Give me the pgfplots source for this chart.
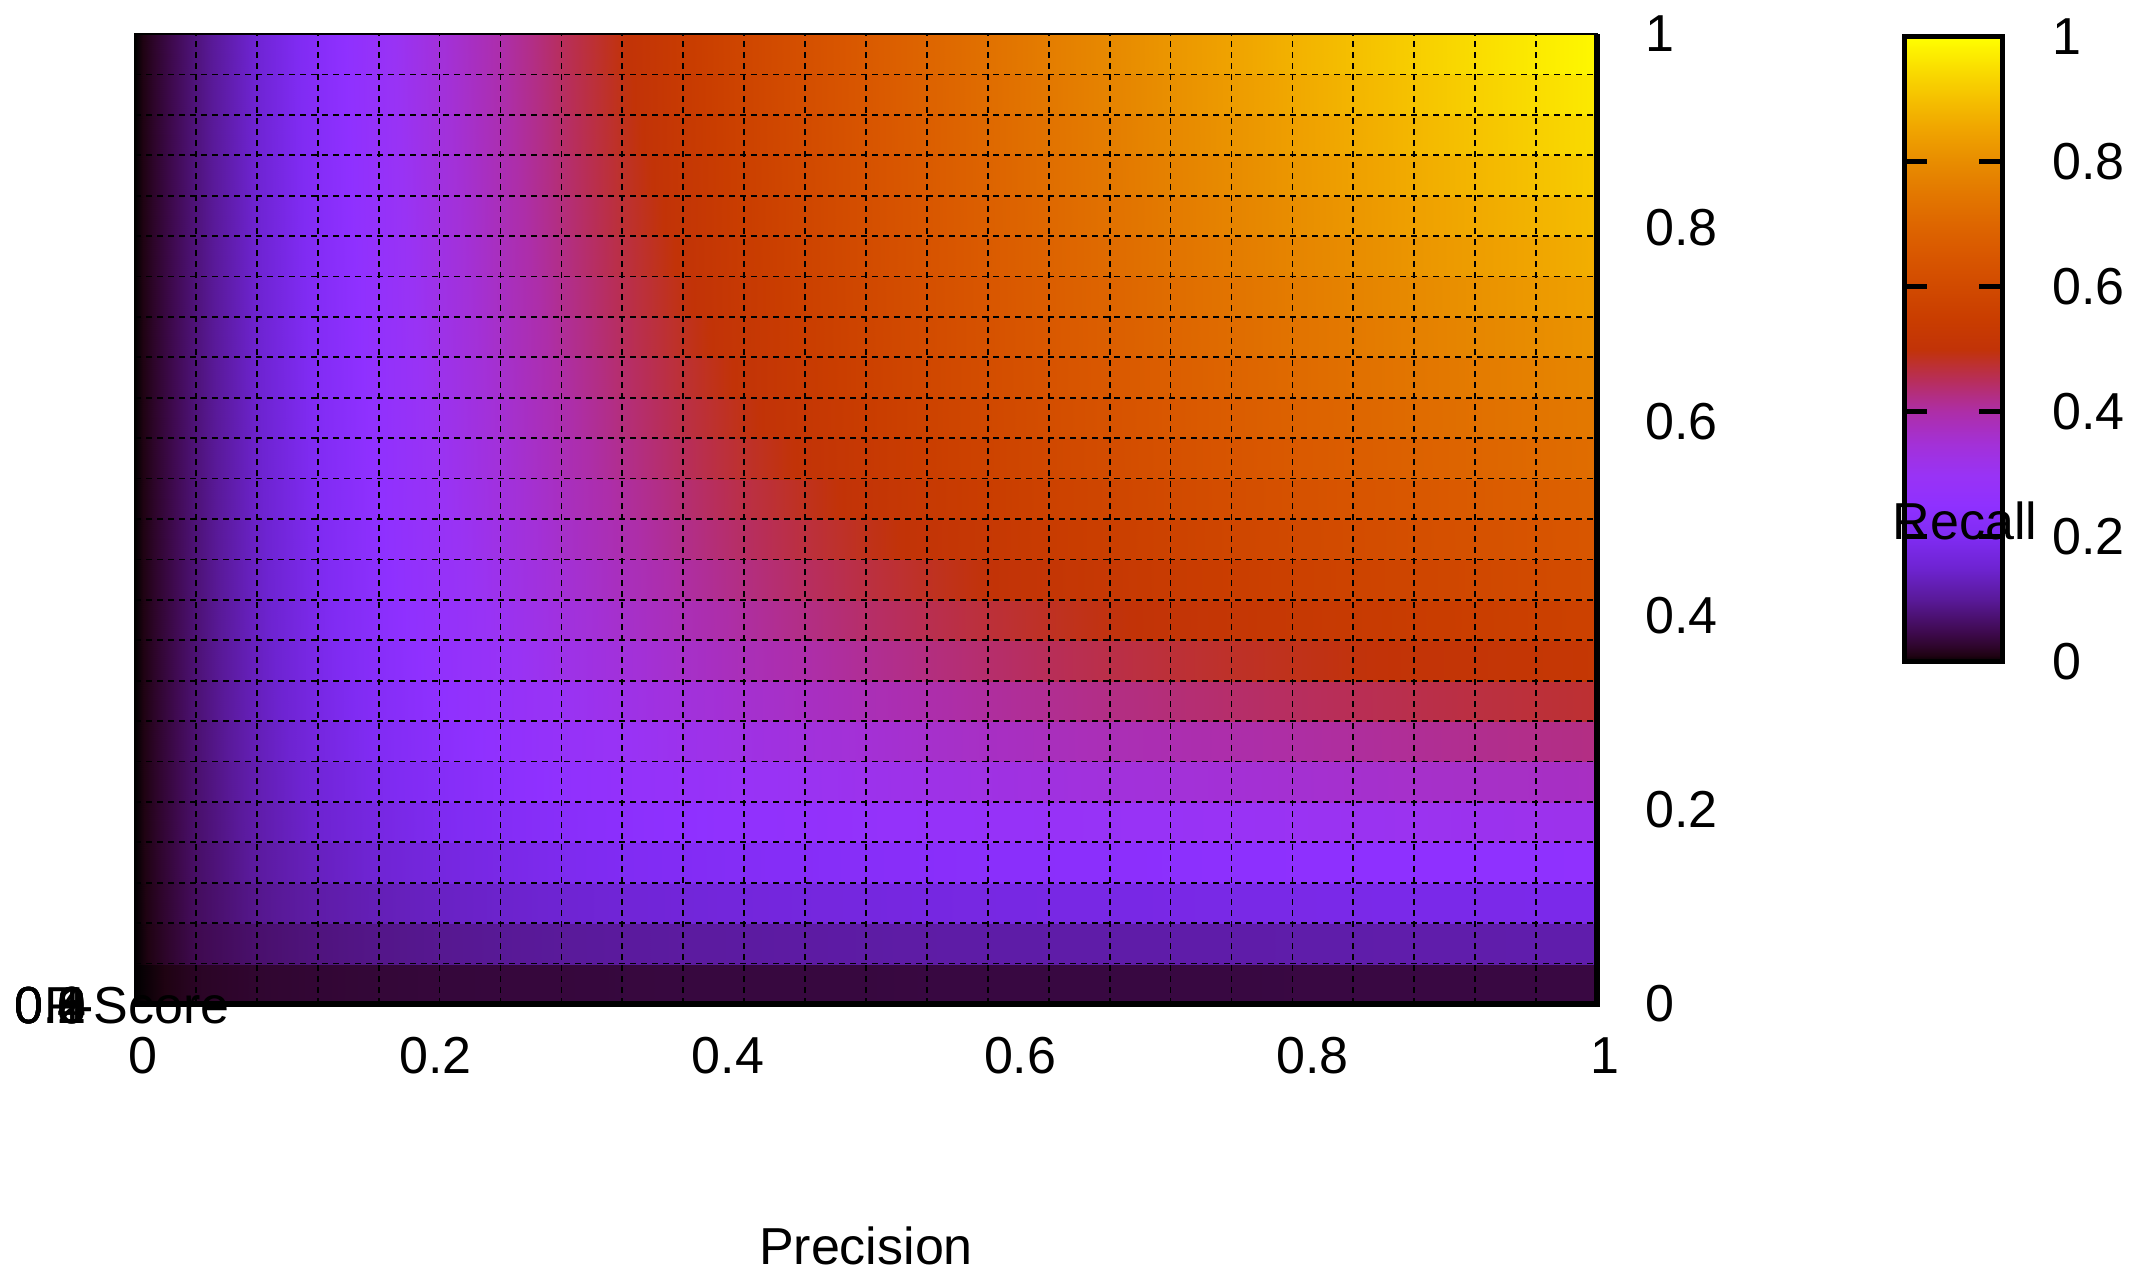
\documentclass[border=0pt]{standalone}
\usepackage{fontspec}
\setmainfont{Liberation Sans}
\usepackage{pgfplots}
\pgfplotsset{compat=1.18, /pgf/number format/assume math mode=true}
\pgfplotsset{colormap={gnu}{
 rgb(0pt)=(0,0,0) rgb(1pt)=(0.12,0.01,0.07) rgb(2.5pt)=(0.18,0.02,0.17)
 rgb(5pt)=(0.25,0.04,0.32) rgb(10pt)=(0.35,0.10,0.60) rgb(15pt)=(0.43,0.14,0.82)
 rgb(20pt)=(0.50,0.17,0.95) rgb(25pt)=(0.56,0.19,1) rgb(30pt)=(0.60,0.20,0.96)
 rgb(35pt)=(0.64,0.19,0.84) rgb(40pt)=(0.68,0.18,0.66) rgb(42.5pt)=(0.70,0.18,0.52)
 rgb(45pt)=(0.72,0.18,0.36) rgb(47.5pt)=(0.74,0.19,0.20) rgb(50pt)=(0.76,0.20,0.03)
 rgb(55pt)=(0.79,0.24,0) rgb(60pt)=(0.82,0.29,0) rgb(65pt)=(0.85,0.34,0)
 rgb(70pt)=(0.87,0.40,0) rgb(75pt)=(0.89,0.47,0) rgb(80pt)=(0.91,0.55,0)
 rgb(85pt)=(0.94,0.64,0) rgb(90pt)=(0.96,0.75,0) rgb(95pt)=(0.98,0.87,0)
 rgb(100pt)=(1,1,0)}}
\begin{document}
\begin{tikzpicture}[font=\fontsize{26}{31}\selectfont]
\path[use as bounding box] (0,0) rectangle (1068.5pt,636.5pt);
\begin{axis}[
  at={(67.5pt,134.5pt)}, anchor=south west,
  scale only axis, width=731pt, height=485pt,
  xmin=0, xmax=1, ymin=0, ymax=1, clip=false,
  xtick={0,0.2,0.4,0.6,0.8,1}, ytick={0,0.2,0.4,0.6,0.8,1},
  minor xtick={0.04167,0.08333,0.125,0.16667,0.20833,0.25,0.29167,0.33333,0.375,0.41667,0.45833,0.5,0.54167,0.58333,0.625,0.66667,0.70833,0.75,0.79167,0.83333,0.875,0.91667,0.95833},
  minor ytick={0.04167,0.08333,0.125,0.16667,0.20833,0.25,0.29167,0.33333,0.375,0.41667,0.45833,0.5,0.54167,0.58333,0.625,0.66667,0.70833,0.75,0.79167,0.83333,0.875,0.91667,0.95833},
  major tick length=0pt, minor tick length=0pt,
  xminorgrids=true, yminorgrids=true,
  minor grid style={black, line width=0.9pt, dash pattern=on 3pt off 2.5pt},
  axis on top,
  axis line style={line width=1.3pt},
  yticklabel pos=right,
  yticklabel style={anchor=west, inner sep=0pt, xshift=24pt},
  xticklabel style={anchor=center, inner sep=0pt, yshift=-26pt, xshift=4pt},
  xlabel={Precision},
  xlabel style={at={(axis description cs:0.5,0)}, anchor=center, inner sep=0pt, yshift=-121pt},
  colormap name=gnu, point meta min=0, point meta max=1,
]
\addplot[surf, shader=interp, point meta=explicit] table[meta index=2] {
0 0 0
0.0417 0 0.021
0.0833 0 0.028
0.125 0 0.031
0.1667 0 0.033
0.2083 0 0.035
0.25 0 0.036
0.2917 0 0.036
0.3333 0 0.037
0.375 0 0.038
0.4167 0 0.038
0.4583 0 0.038
0.5 0 0.038
0.5417 0 0.039
0.5833 0 0.039
0.625 0 0.039
0.6667 0 0.039
0.7083 0 0.039
0.75 0 0.039
0.7917 0 0.040
0.8333 0 0.040
0.875 0 0.040
0.9167 0 0.040
0.9583 0 0.040
1 0 0.040

0 0.0417 0
0.0417 0.0417 0.021
0.0833 0.0417 0.028
0.125 0.0417 0.031
0.1667 0.0417 0.033
0.2083 0.0417 0.035
0.25 0.0417 0.036
0.2917 0.0417 0.036
0.3333 0.0417 0.037
0.375 0.0417 0.038
0.4167 0.0417 0.038
0.4583 0.0417 0.038
0.5 0.0417 0.038
0.5417 0.0417 0.039
0.5833 0.0417 0.039
0.625 0.0417 0.039
0.6667 0.0417 0.039
0.7083 0.0417 0.039
0.75 0.0417 0.039
0.7917 0.0417 0.040
0.8333 0.0417 0.040
0.875 0.0417 0.040
0.9167 0.0417 0.040
0.9583 0.0417 0.040
1 0.0417 0.040

0 0.0417 0
0.0417 0.0417 0.049
0.0833 0.0417 0.069
0.125 0.0417 0.081
0.1667 0.0417 0.089
0.2083 0.0417 0.094
0.25 0.0417 0.098
0.2917 0.0417 0.101
0.3333 0.0417 0.104
0.375 0.0417 0.106
0.4167 0.0417 0.107
0.4583 0.0417 0.109
0.5 0.0417 0.110
0.5417 0.0417 0.111
0.5833 0.0417 0.112
0.625 0.0417 0.113
0.6667 0.0417 0.113
0.7083 0.0417 0.114
0.75 0.0417 0.114
0.7917 0.0417 0.115
0.8333 0.0417 0.115
0.875 0.0417 0.116
0.9167 0.0417 0.116
0.9583 0.0417 0.117
1 0.0417 0.117

0 0.0833 0
0.0417 0.0833 0.049
0.0833 0.0833 0.069
0.125 0.0833 0.081
0.1667 0.0833 0.089
0.2083 0.0833 0.094
0.25 0.0833 0.098
0.2917 0.0833 0.101
0.3333 0.0833 0.104
0.375 0.0833 0.106
0.4167 0.0833 0.107
0.4583 0.0833 0.109
0.5 0.0833 0.110
0.5417 0.0833 0.111
0.5833 0.0833 0.112
0.625 0.0833 0.113
0.6667 0.0833 0.113
0.7083 0.0833 0.114
0.75 0.0833 0.114
0.7917 0.0833 0.115
0.8333 0.0833 0.115
0.875 0.0833 0.116
0.9167 0.0833 0.116
0.9583 0.0833 0.117
1 0.0833 0.117

0 0.0833 0
0.0417 0.0833 0.059
0.0833 0.0833 0.092
0.125 0.0833 0.113
0.1667 0.0833 0.127
0.2083 0.0833 0.138
0.25 0.0833 0.146
0.2917 0.0833 0.152
0.3333 0.0833 0.158
0.375 0.0833 0.162
0.4167 0.0833 0.166
0.4583 0.0833 0.169
0.5 0.0833 0.171
0.5417 0.0833 0.174
0.5833 0.0833 0.176
0.625 0.0833 0.178
0.6667 0.0833 0.179
0.7083 0.0833 0.181
0.75 0.0833 0.182
0.7917 0.0833 0.183
0.8333 0.0833 0.185
0.875 0.0833 0.186
0.9167 0.0833 0.186
0.9583 0.0833 0.187
1 0.0833 0.188

0 0.125 0
0.0417 0.125 0.059
0.0833 0.125 0.092
0.125 0.125 0.113
0.1667 0.125 0.127
0.2083 0.125 0.138
0.25 0.125 0.146
0.2917 0.125 0.152
0.3333 0.125 0.158
0.375 0.125 0.162
0.4167 0.125 0.166
0.4583 0.125 0.169
0.5 0.125 0.171
0.5417 0.125 0.174
0.5833 0.125 0.176
0.625 0.125 0.178
0.6667 0.125 0.179
0.7083 0.125 0.181
0.75 0.125 0.182
0.7917 0.125 0.183
0.8333 0.125 0.185
0.875 0.125 0.186
0.9167 0.125 0.186
0.9583 0.125 0.187
1 0.125 0.188

0 0.125 0
0.0417 0.125 0.065
0.0833 0.125 0.106
0.125 0.125 0.134
0.1667 0.125 0.155
0.2083 0.125 0.171
0.25 0.125 0.183
0.2917 0.125 0.194
0.3333 0.125 0.202
0.375 0.125 0.209
0.4167 0.125 0.215
0.4583 0.125 0.220
0.5 0.125 0.225
0.5417 0.125 0.229
0.5833 0.125 0.233
0.625 0.125 0.236
0.6667 0.125 0.239
0.7083 0.125 0.241
0.75 0.125 0.244
0.7917 0.125 0.246
0.8333 0.125 0.248
0.875 0.125 0.249
0.9167 0.125 0.251
0.9583 0.125 0.253
1 0.125 0.254

0 0.1667 0
0.0417 0.1667 0.065
0.0833 0.1667 0.106
0.125 0.1667 0.134
0.1667 0.1667 0.155
0.2083 0.1667 0.171
0.25 0.1667 0.183
0.2917 0.1667 0.194
0.3333 0.1667 0.202
0.375 0.1667 0.209
0.4167 0.1667 0.215
0.4583 0.1667 0.220
0.5 0.1667 0.225
0.5417 0.1667 0.229
0.5833 0.1667 0.233
0.625 0.1667 0.236
0.6667 0.1667 0.239
0.7083 0.1667 0.241
0.75 0.1667 0.244
0.7917 0.1667 0.246
0.8333 0.1667 0.248
0.875 0.1667 0.249
0.9167 0.1667 0.251
0.9583 0.1667 0.253
1 0.1667 0.254

0 0.1667 0
0.0417 0.1667 0.068
0.0833 0.1667 0.115
0.125 0.1667 0.150
0.1667 0.1667 0.176
0.2083 0.1667 0.197
0.25 0.1667 0.214
0.2917 0.1667 0.228
0.3333 0.1667 0.239
0.375 0.1667 0.249
0.4167 0.1667 0.258
0.4583 0.1667 0.266
0.5 0.1667 0.272
0.5417 0.1667 0.278
0.5833 0.1667 0.283
0.625 0.1667 0.288
0.6667 0.1667 0.292
0.7083 0.1667 0.296
0.75 0.1667 0.299
0.7917 0.1667 0.303
0.8333 0.1667 0.306
0.875 0.1667 0.308
0.9167 0.1667 0.311
0.9583 0.1667 0.313
1 0.1667 0.315

0 0.2083 0
0.0417 0.2083 0.068
0.0833 0.2083 0.115
0.125 0.2083 0.150
0.1667 0.2083 0.176
0.2083 0.2083 0.197
0.25 0.2083 0.214
0.2917 0.2083 0.228
0.3333 0.2083 0.239
0.375 0.2083 0.249
0.4167 0.2083 0.258
0.4583 0.2083 0.266
0.5 0.2083 0.272
0.5417 0.2083 0.278
0.5833 0.2083 0.283
0.625 0.2083 0.288
0.6667 0.2083 0.292
0.7083 0.2083 0.296
0.75 0.2083 0.299
0.7917 0.2083 0.303
0.8333 0.2083 0.306
0.875 0.2083 0.308
0.9167 0.2083 0.311
0.9583 0.2083 0.313
1 0.2083 0.315

0 0.2083 0
0.0417 0.2083 0.070
0.0833 0.2083 0.122
0.125 0.2083 0.161
0.1667 0.2083 0.193
0.2083 0.2083 0.218
0.25 0.2083 0.239
0.2917 0.2083 0.256
0.3333 0.2083 0.271
0.375 0.2083 0.284
0.4167 0.2083 0.295
0.4583 0.2083 0.305
0.5 0.2083 0.314
0.5417 0.2083 0.322
0.5833 0.2083 0.329
0.625 0.2083 0.335
0.6667 0.2083 0.341
0.7083 0.2083 0.346
0.75 0.2083 0.351
0.7917 0.2083 0.355
0.8333 0.2083 0.359
0.875 0.2083 0.363
0.9167 0.2083 0.366
0.9583 0.2083 0.369
1 0.2083 0.372

0 0.25 0
0.0417 0.25 0.070
0.0833 0.25 0.122
0.125 0.25 0.161
0.1667 0.25 0.193
0.2083 0.25 0.218
0.25 0.25 0.239
0.2917 0.25 0.256
0.3333 0.25 0.271
0.375 0.25 0.284
0.4167 0.25 0.295
0.4583 0.25 0.305
0.5 0.25 0.314
0.5417 0.25 0.322
0.5833 0.25 0.329
0.625 0.25 0.335
0.6667 0.25 0.341
0.7083 0.25 0.346
0.75 0.25 0.351
0.7917 0.25 0.355
0.8333 0.25 0.359
0.875 0.25 0.363
0.9167 0.25 0.366
0.9583 0.25 0.369
1 0.25 0.372

0 0.25 0
0.0417 0.25 0.072
0.0833 0.25 0.127
0.125 0.25 0.171
0.1667 0.25 0.206
0.2083 0.25 0.235
0.25 0.25 0.260
0.2917 0.25 0.281
0.3333 0.25 0.298
0.375 0.25 0.314
0.4167 0.25 0.328
0.4583 0.25 0.340
0.5 0.25 0.351
0.5417 0.25 0.361
0.5833 0.25 0.370
0.625 0.25 0.378
0.6667 0.25 0.385
0.7083 0.25 0.391
0.75 0.25 0.398
0.7917 0.25 0.403
0.8333 0.25 0.408
0.875 0.25 0.413
0.9167 0.25 0.418
0.9583 0.25 0.422
1 0.25 0.426

0 0.2917 0
0.0417 0.2917 0.072
0.0833 0.2917 0.127
0.125 0.2917 0.171
0.1667 0.2917 0.206
0.2083 0.2917 0.235
0.25 0.2917 0.260
0.2917 0.2917 0.281
0.3333 0.2917 0.298
0.375 0.2917 0.314
0.4167 0.2917 0.328
0.4583 0.2917 0.340
0.5 0.2917 0.351
0.5417 0.2917 0.361
0.5833 0.2917 0.370
0.625 0.2917 0.378
0.6667 0.2917 0.385
0.7083 0.2917 0.391
0.75 0.2917 0.398
0.7917 0.2917 0.403
0.8333 0.2917 0.408
0.875 0.2917 0.413
0.9167 0.2917 0.418
0.9583 0.2917 0.422
1 0.2917 0.426

0 0.2917 0
0.0417 0.2917 0.074
0.0833 0.2917 0.132
0.125 0.2917 0.178
0.1667 0.2917 0.217
0.2083 0.2917 0.250
0.25 0.2917 0.278
0.2917 0.2917 0.301
0.3333 0.2917 0.322
0.375 0.2917 0.341
0.4167 0.2917 0.357
0.4583 0.2917 0.371
0.5 0.2917 0.384
0.5417 0.2917 0.396
0.5833 0.2917 0.407
0.625 0.2917 0.416
0.6667 0.2917 0.425
0.7083 0.2917 0.433
0.75 0.2917 0.441
0.7917 0.2917 0.448
0.8333 0.2917 0.454
0.875 0.2917 0.460
0.9167 0.2917 0.466
0.9583 0.2917 0.471
1 0.2917 0.476

0 0.3333 0
0.0417 0.3333 0.074
0.0833 0.3333 0.132
0.125 0.3333 0.178
0.1667 0.3333 0.217
0.2083 0.3333 0.250
0.25 0.3333 0.278
0.2917 0.3333 0.301
0.3333 0.3333 0.322
0.375 0.3333 0.341
0.4167 0.3333 0.357
0.4583 0.3333 0.371
0.5 0.3333 0.384
0.5417 0.3333 0.396
0.5833 0.3333 0.407
0.625 0.3333 0.416
0.6667 0.3333 0.425
0.7083 0.3333 0.433
0.75 0.3333 0.441
0.7917 0.3333 0.448
0.8333 0.3333 0.454
0.875 0.3333 0.460
0.9167 0.3333 0.466
0.9583 0.3333 0.471
1 0.3333 0.476

0 0.3333 0
0.0417 0.3333 0.075
0.0833 0.3333 0.135
0.125 0.3333 0.185
0.1667 0.3333 0.227
0.2083 0.3333 0.262
0.25 0.3333 0.293
0.2917 0.3333 0.320
0.3333 0.3333 0.343
0.375 0.3333 0.364
0.4167 0.3333 0.383
0.4583 0.3333 0.399
0.5 0.3333 0.414
0.5417 0.3333 0.428
0.5833 0.3333 0.440
0.625 0.3333 0.452
0.6667 0.3333 0.462
0.7083 0.3333 0.472
0.75 0.3333 0.481
0.7917 0.3333 0.489
0.8333 0.3333 0.497
0.875 0.3333 0.504
0.9167 0.3333 0.511
0.9583 0.3333 0.517
1 0.3333 0.523

0 0.375 0
0.0417 0.375 0.075
0.0833 0.375 0.135
0.125 0.375 0.185
0.1667 0.375 0.227
0.2083 0.375 0.262
0.25 0.375 0.293
0.2917 0.375 0.320
0.3333 0.375 0.343
0.375 0.375 0.364
0.4167 0.375 0.383
0.4583 0.375 0.399
0.5 0.375 0.414
0.5417 0.375 0.428
0.5833 0.375 0.440
0.625 0.375 0.452
0.6667 0.375 0.462
0.7083 0.375 0.472
0.75 0.375 0.481
0.7917 0.375 0.489
0.8333 0.375 0.497
0.875 0.375 0.504
0.9167 0.375 0.511
0.9583 0.375 0.517
1 0.375 0.523

0 0.375 0
0.0417 0.375 0.075
0.0833 0.375 0.138
0.125 0.375 0.190
0.1667 0.375 0.234
0.2083 0.375 0.273
0.25 0.375 0.306
0.2917 0.375 0.336
0.3333 0.375 0.362
0.375 0.375 0.385
0.4167 0.375 0.406
0.4583 0.375 0.425
0.5 0.375 0.442
0.5417 0.375 0.457
0.5833 0.375 0.471
0.625 0.375 0.484
0.6667 0.375 0.496
0.7083 0.375 0.508
0.75 0.375 0.518
0.7917 0.375 0.528
0.8333 0.375 0.536
0.875 0.375 0.545
0.9167 0.375 0.553
0.9583 0.375 0.560
1 0.375 0.567

0 0.4167 0
0.0417 0.4167 0.075
0.0833 0.4167 0.138
0.125 0.4167 0.190
0.1667 0.4167 0.234
0.2083 0.4167 0.273
0.25 0.4167 0.306
0.2917 0.4167 0.336
0.3333 0.4167 0.362
0.375 0.4167 0.385
0.4167 0.4167 0.406
0.4583 0.4167 0.425
0.5 0.4167 0.442
0.5417 0.4167 0.457
0.5833 0.4167 0.471
0.625 0.4167 0.484
0.6667 0.4167 0.496
0.7083 0.4167 0.508
0.75 0.4167 0.518
0.7917 0.4167 0.528
0.8333 0.4167 0.536
0.875 0.4167 0.545
0.9167 0.4167 0.553
0.9583 0.4167 0.560
1 0.4167 0.567

0 0.4167 0
0.0417 0.4167 0.076
0.0833 0.4167 0.140
0.125 0.4167 0.194
0.1667 0.4167 0.241
0.2083 0.4167 0.282
0.25 0.4167 0.318
0.2917 0.4167 0.350
0.3333 0.4167 0.378
0.375 0.4167 0.404
0.4167 0.4167 0.427
0.4583 0.4167 0.447
0.5 0.4167 0.466
0.5417 0.4167 0.484
0.5833 0.4167 0.500
0.625 0.4167 0.514
0.6667 0.4167 0.528
0.7083 0.4167 0.541
0.75 0.4167 0.552
0.7917 0.4167 0.563
0.8333 0.4167 0.574
0.875 0.4167 0.583
0.9167 0.4167 0.592
0.9583 0.4167 0.601
1 0.4167 0.608

0 0.4583 0
0.0417 0.4583 0.076
0.0833 0.4583 0.140
0.125 0.4583 0.194
0.1667 0.4583 0.241
0.2083 0.4583 0.282
0.25 0.4583 0.318
0.2917 0.4583 0.350
0.3333 0.4583 0.378
0.375 0.4583 0.404
0.4167 0.4583 0.427
0.4583 0.4583 0.447
0.5 0.4583 0.466
0.5417 0.4583 0.484
0.5833 0.4583 0.500
0.625 0.4583 0.514
0.6667 0.4583 0.528
0.7083 0.4583 0.541
0.75 0.4583 0.552
0.7917 0.4583 0.563
0.8333 0.4583 0.574
0.875 0.4583 0.583
0.9167 0.4583 0.592
0.9583 0.4583 0.601
1 0.4583 0.608

0 0.4583 0
0.0417 0.4583 0.077
0.0833 0.4583 0.142
0.125 0.4583 0.198
0.1667 0.4583 0.247
0.2083 0.4583 0.290
0.25 0.4583 0.328
0.2917 0.4583 0.363
0.3333 0.4583 0.393
0.375 0.4583 0.421
0.4167 0.4583 0.446
0.4583 0.4583 0.468
0.5 0.4583 0.489
0.5417 0.4583 0.508
0.5833 0.4583 0.526
0.625 0.4583 0.542
0.6667 0.4583 0.557
0.7083 0.4583 0.571
0.75 0.4583 0.585
0.7917 0.4583 0.597
0.8333 0.4583 0.608
0.875 0.4583 0.619
0.9167 0.4583 0.629
0.9583 0.4583 0.639
1 0.4583 0.648

0 0.5 0
0.0417 0.5 0.077
0.0833 0.5 0.142
0.125 0.5 0.198
0.1667 0.5 0.247
0.2083 0.5 0.290
0.25 0.5 0.328
0.2917 0.5 0.363
0.3333 0.5 0.393
0.375 0.5 0.421
0.4167 0.5 0.446
0.4583 0.5 0.468
0.5 0.5 0.489
0.5417 0.5 0.508
0.5833 0.5 0.526
0.625 0.5 0.542
0.6667 0.5 0.557
0.7083 0.5 0.571
0.75 0.5 0.585
0.7917 0.5 0.597
0.8333 0.5 0.608
0.875 0.5 0.619
0.9167 0.5 0.629
0.9583 0.5 0.639
1 0.5 0.648

0 0.5 0
0.0417 0.5 0.077
0.0833 0.5 0.144
0.125 0.5 0.202
0.1667 0.5 0.253
0.2083 0.5 0.298
0.25 0.5 0.338
0.2917 0.5 0.374
0.3333 0.5 0.406
0.375 0.5 0.436
0.4167 0.5 0.463
0.4583 0.5 0.487
0.5 0.5 0.510
0.5417 0.5 0.531
0.5833 0.5 0.550
0.625 0.5 0.568
0.6667 0.5 0.585
0.7083 0.5 0.600
0.75 0.5 0.615
0.7917 0.5 0.628
0.8333 0.5 0.641
0.875 0.5 0.653
0.9167 0.5 0.664
0.9583 0.5 0.675
1 0.5 0.685

0 0.5417 0
0.0417 0.5417 0.077
0.0833 0.5417 0.144
0.125 0.5417 0.202
0.1667 0.5417 0.253
0.2083 0.5417 0.298
0.25 0.5417 0.338
0.2917 0.5417 0.374
0.3333 0.5417 0.406
0.375 0.5417 0.436
0.4167 0.5417 0.463
0.4583 0.5417 0.487
0.5 0.5417 0.510
0.5417 0.5417 0.531
0.5833 0.5417 0.550
0.625 0.5417 0.568
0.6667 0.5417 0.585
0.7083 0.5417 0.600
0.75 0.5417 0.615
0.7917 0.5417 0.628
0.8333 0.5417 0.641
0.875 0.5417 0.653
0.9167 0.5417 0.664
0.9583 0.5417 0.675
1 0.5417 0.685

0 0.5417 0
0.0417 0.5417 0.078
0.0833 0.5417 0.145
0.125 0.5417 0.205
0.1667 0.5417 0.257
0.2083 0.5417 0.304
0.25 0.5417 0.346
0.2917 0.5417 0.384
0.3333 0.5417 0.419
0.375 0.5417 0.450
0.4167 0.5417 0.479
0.4583 0.5417 0.505
0.5 0.5417 0.529
0.5417 0.5417 0.552
0.5833 0.5417 0.573
0.625 0.5417 0.592
0.6667 0.5417 0.610
0.7083 0.5417 0.627
0.75 0.5417 0.643
0.7917 0.5417 0.658
0.8333 0.5417 0.671
0.875 0.5417 0.685
0.9167 0.5417 0.697
0.9583 0.5417 0.709
1 0.5417 0.720

0 0.5833 0
0.0417 0.5833 0.078
0.0833 0.5833 0.145
0.125 0.5833 0.205
0.1667 0.5833 0.257
0.2083 0.5833 0.304
0.25 0.5833 0.346
0.2917 0.5833 0.384
0.3333 0.5833 0.419
0.375 0.5833 0.450
0.4167 0.5833 0.479
0.4583 0.5833 0.505
0.5 0.5833 0.529
0.5417 0.5833 0.552
0.5833 0.5833 0.573
0.625 0.5833 0.592
0.6667 0.5833 0.610
0.7083 0.5833 0.627
0.75 0.5833 0.643
0.7917 0.5833 0.658
0.8333 0.5833 0.671
0.875 0.5833 0.685
0.9167 0.5833 0.697
0.9583 0.5833 0.709
1 0.5833 0.720

0 0.5833 0
0.0417 0.5833 0.078
0.0833 0.5833 0.146
0.125 0.5833 0.207
0.1667 0.5833 0.261
0.2083 0.5833 0.310
0.25 0.5833 0.354
0.2917 0.5833 0.393
0.3333 0.5833 0.430
0.375 0.5833 0.463
0.4167 0.5833 0.493
0.4583 0.5833 0.521
0.5 0.5833 0.547
0.5417 0.5833 0.571
0.5833 0.5833 0.593
0.625 0.5833 0.614
0.6667 0.5833 0.634
0.7083 0.5833 0.652
0.75 0.5833 0.669
0.7917 0.5833 0.685
0.8333 0.5833 0.700
0.875 0.5833 0.715
0.9167 0.5833 0.728
0.9583 0.5833 0.741
1 0.5833 0.753

0 0.625 0
0.0417 0.625 0.078
0.0833 0.625 0.146
0.125 0.625 0.207
0.1667 0.625 0.261
0.2083 0.625 0.310
0.25 0.625 0.354
0.2917 0.625 0.393
0.3333 0.625 0.430
0.375 0.625 0.463
0.4167 0.625 0.493
0.4583 0.625 0.521
0.5 0.625 0.547
0.5417 0.625 0.571
0.5833 0.625 0.593
0.625 0.625 0.614
0.6667 0.625 0.634
0.7083 0.625 0.652
0.75 0.625 0.669
0.7917 0.625 0.685
0.8333 0.625 0.700
0.875 0.625 0.715
0.9167 0.625 0.728
0.9583 0.625 0.741
1 0.625 0.753

0 0.625 0
0.0417 0.625 0.078
0.0833 0.625 0.148
0.125 0.625 0.209
0.1667 0.625 0.265
0.2083 0.625 0.315
0.25 0.625 0.360
0.2917 0.625 0.402
0.3333 0.625 0.440
0.375 0.625 0.474
0.4167 0.625 0.506
0.4583 0.625 0.536
0.5 0.625 0.564
0.5417 0.625 0.589
0.5833 0.625 0.613
0.625 0.625 0.635
0.6667 0.625 0.656
0.7083 0.625 0.676
0.75 0.625 0.694
0.7917 0.625 0.711
0.8333 0.625 0.728
0.875 0.625 0.743
0.9167 0.625 0.758
0.9583 0.625 0.772
1 0.625 0.785

0 0.6667 0
0.0417 0.6667 0.078
0.0833 0.6667 0.148
0.125 0.6667 0.209
0.1667 0.6667 0.265
0.2083 0.6667 0.315
0.25 0.6667 0.360
0.2917 0.6667 0.402
0.3333 0.6667 0.440
0.375 0.6667 0.474
0.4167 0.6667 0.506
0.4583 0.6667 0.536
0.5 0.6667 0.564
0.5417 0.6667 0.589
0.5833 0.6667 0.613
0.625 0.6667 0.635
0.6667 0.6667 0.656
0.7083 0.6667 0.676
0.75 0.6667 0.694
0.7917 0.6667 0.711
0.8333 0.6667 0.728
0.875 0.6667 0.743
0.9167 0.6667 0.758
0.9583 0.6667 0.772
1 0.6667 0.785

0 0.6667 0
0.0417 0.6667 0.079
0.0833 0.6667 0.149
0.125 0.6667 0.212
0.1667 0.6667 0.268
0.2083 0.6667 0.320
0.25 0.6667 0.367
0.2917 0.6667 0.410
0.3333 0.6667 0.449
0.375 0.6667 0.485
0.4167 0.6667 0.519
0.4583 0.6667 0.550
0.5 0.6667 0.579
0.5417 0.6667 0.606
0.5833 0.6667 0.631
0.625 0.6667 0.655
0.6667 0.6667 0.677
0.7083 0.6667 0.698
0.75 0.6667 0.717
0.7917 0.6667 0.736
0.8333 0.6667 0.753
0.875 0.6667 0.770
0.9167 0.6667 0.786
0.9583 0.6667 0.801
1 0.6667 0.815

0 0.7083 0
0.0417 0.7083 0.079
0.0833 0.7083 0.149
0.125 0.7083 0.212
0.1667 0.7083 0.268
0.2083 0.7083 0.320
0.25 0.7083 0.367
0.2917 0.7083 0.410
0.3333 0.7083 0.449
0.375 0.7083 0.485
0.4167 0.7083 0.519
0.4583 0.7083 0.550
0.5 0.7083 0.579
0.5417 0.7083 0.606
0.5833 0.7083 0.631
0.625 0.7083 0.655
0.6667 0.7083 0.677
0.7083 0.7083 0.698
0.75 0.7083 0.717
0.7917 0.7083 0.736
0.8333 0.7083 0.753
0.875 0.7083 0.770
0.9167 0.7083 0.786
0.9583 0.7083 0.801
1 0.7083 0.815

0 0.7083 0
0.0417 0.7083 0.079
0.0833 0.7083 0.150
0.125 0.7083 0.213
0.1667 0.7083 0.271
0.2083 0.7083 0.324
0.25 0.7083 0.372
0.2917 0.7083 0.417
0.3333 0.7083 0.457
0.375 0.7083 0.495
0.4167 0.7083 0.530
0.4583 0.7083 0.563
0.5 0.7083 0.593
0.5417 0.7083 0.622
0.5833 0.7083 0.648
0.625 0.7083 0.673
0.6667 0.7083 0.696
0.7083 0.7083 0.719
0.75 0.7083 0.739
0.7917 0.7083 0.759
0.8333 0.7083 0.778
0.875 0.7083 0.795
0.9167 0.7083 0.812
0.9583 0.7083 0.828
1 0.7083 0.843

0 0.75 0
0.0417 0.75 0.079
0.0833 0.75 0.150
0.125 0.75 0.213
0.1667 0.75 0.271
0.2083 0.75 0.324
0.25 0.75 0.372
0.2917 0.75 0.417
0.3333 0.75 0.457
0.375 0.75 0.495
0.4167 0.75 0.530
0.4583 0.75 0.563
0.5 0.75 0.593
0.5417 0.75 0.622
0.5833 0.75 0.648
0.625 0.75 0.673
0.6667 0.75 0.696
0.7083 0.75 0.719
0.75 0.75 0.739
0.7917 0.75 0.759
0.8333 0.75 0.778
0.875 0.75 0.795
0.9167 0.75 0.812
0.9583 0.75 0.828
1 0.75 0.843

0 0.75 0
0.0417 0.75 0.079
0.0833 0.75 0.150
0.125 0.75 0.215
0.1667 0.75 0.274
0.2083 0.75 0.328
0.25 0.75 0.378
0.2917 0.75 0.423
0.3333 0.75 0.465
0.375 0.75 0.505
0.4167 0.75 0.541
0.4583 0.75 0.575
0.5 0.75 0.607
0.5417 0.75 0.636
0.5833 0.75 0.664
0.625 0.75 0.690
0.6667 0.75 0.715
0.7083 0.75 0.738
0.75 0.75 0.760
0.7917 0.75 0.781
0.8333 0.75 0.801
0.875 0.75 0.820
0.9167 0.75 0.837
0.9583 0.75 0.854
1 0.75 0.871

0 0.7917 0
0.0417 0.7917 0.079
0.0833 0.7917 0.150
0.125 0.7917 0.215
0.1667 0.7917 0.274
0.2083 0.7917 0.328
0.25 0.7917 0.378
0.2917 0.7917 0.423
0.3333 0.7917 0.465
0.375 0.7917 0.505
0.4167 0.7917 0.541
0.4583 0.7917 0.575
0.5 0.7917 0.607
0.5417 0.7917 0.636
0.5833 0.7917 0.664
0.625 0.7917 0.690
0.6667 0.7917 0.715
0.7083 0.7917 0.738
0.75 0.7917 0.760
0.7917 0.7917 0.781
0.8333 0.7917 0.801
0.875 0.7917 0.820
0.9167 0.7917 0.837
0.9583 0.7917 0.854
1 0.7917 0.871

0 0.7917 0
0.0417 0.7917 0.079
0.0833 0.7917 0.151
0.125 0.7917 0.217
0.1667 0.7917 0.277
0.2083 0.7917 0.332
0.25 0.7917 0.382
0.2917 0.7917 0.429
0.3333 0.7917 0.473
0.375 0.7917 0.513
0.4167 0.7917 0.551
0.4583 0.7917 0.586
0.5 0.7917 0.619
0.5417 0.7917 0.650
0.5833 0.7917 0.679
0.625 0.7917 0.706
0.6667 0.7917 0.732
0.7083 0.7917 0.757
0.75 0.7917 0.780
0.7917 0.7917 0.802
0.8333 0.7917 0.823
0.875 0.7917 0.843
0.9167 0.7917 0.861
0.9583 0.7917 0.879
1 0.7917 0.896

0 0.8333 0
0.0417 0.8333 0.079
0.0833 0.8333 0.151
0.125 0.8333 0.217
0.1667 0.8333 0.277
0.2083 0.8333 0.332
0.25 0.8333 0.382
0.2917 0.8333 0.429
0.3333 0.8333 0.473
0.375 0.8333 0.513
0.4167 0.8333 0.551
0.4583 0.8333 0.586
0.5 0.8333 0.619
0.5417 0.8333 0.650
0.5833 0.8333 0.679
0.625 0.8333 0.706
0.6667 0.8333 0.732
0.7083 0.8333 0.757
0.75 0.8333 0.780
0.7917 0.8333 0.802
0.8333 0.8333 0.823
0.875 0.8333 0.843
0.9167 0.8333 0.861
0.9583 0.8333 0.879
1 0.8333 0.896

0 0.8333 0
0.0417 0.8333 0.080
0.0833 0.8333 0.152
0.125 0.8333 0.218
0.1667 0.8333 0.279
0.2083 0.8333 0.335
0.25 0.8333 0.387
0.2917 0.8333 0.435
0.3333 0.8333 0.480
0.375 0.8333 0.521
0.4167 0.8333 0.560
0.4583 0.8333 0.597
0.5 0.8333 0.631
0.5417 0.8333 0.663
0.5833 0.8333 0.693
0.625 0.8333 0.722
0.6667 0.8333 0.749
0.7083 0.8333 0.774
0.75 0.8333 0.799
0.7917 0.8333 0.822
0.8333 0.8333 0.844
0.875 0.8333 0.864
0.9167 0.8333 0.884
0.9583 0.8333 0.903
1 0.8333 0.921

0 0.875 0
0.0417 0.875 0.080
0.0833 0.875 0.152
0.125 0.875 0.218
0.1667 0.875 0.279
0.2083 0.875 0.335
0.25 0.875 0.387
0.2917 0.875 0.435
0.3333 0.875 0.480
0.375 0.875 0.521
0.4167 0.875 0.560
0.4583 0.875 0.597
0.5 0.875 0.631
0.5417 0.875 0.663
0.5833 0.875 0.693
0.625 0.875 0.722
0.6667 0.875 0.749
0.7083 0.875 0.774
0.75 0.875 0.799
0.7917 0.875 0.822
0.8333 0.875 0.844
0.875 0.875 0.864
0.9167 0.875 0.884
0.9583 0.875 0.903
1 0.875 0.921

0 0.875 0
0.0417 0.875 0.080
0.0833 0.875 0.153
0.125 0.875 0.219
0.1667 0.875 0.281
0.2083 0.875 0.338
0.25 0.875 0.391
0.2917 0.875 0.440
0.3333 0.875 0.486
0.375 0.875 0.529
0.4167 0.875 0.569
0.4583 0.875 0.606
0.5 0.875 0.642
0.5417 0.875 0.675
0.5833 0.875 0.707
0.625 0.875 0.736
0.6667 0.875 0.764
0.7083 0.875 0.791
0.75 0.875 0.816
0.7917 0.875 0.840
0.8333 0.875 0.863
0.875 0.875 0.885
0.9167 0.875 0.906
0.9583 0.875 0.926
1 0.875 0.945

0 0.9167 0
0.0417 0.9167 0.080
0.0833 0.9167 0.153
0.125 0.9167 0.219
0.1667 0.9167 0.281
0.2083 0.9167 0.338
0.25 0.9167 0.391
0.2917 0.9167 0.440
0.3333 0.9167 0.486
0.375 0.9167 0.529
0.4167 0.9167 0.569
0.4583 0.9167 0.606
0.5 0.9167 0.642
0.5417 0.9167 0.675
0.5833 0.9167 0.707
0.625 0.9167 0.736
0.6667 0.9167 0.764
0.7083 0.9167 0.791
0.75 0.9167 0.816
0.7917 0.9167 0.840
0.8333 0.9167 0.863
0.875 0.9167 0.885
0.9167 0.9167 0.906
0.9583 0.9167 0.926
1 0.9167 0.945

0 0.9167 0
0.0417 0.9167 0.080
0.0833 0.9167 0.153
0.125 0.9167 0.221
0.1667 0.9167 0.283
0.2083 0.9167 0.341
0.25 0.9167 0.395
0.2917 0.9167 0.445
0.3333 0.9167 0.492
0.375 0.9167 0.536
0.4167 0.9167 0.577
0.4583 0.9167 0.616
0.5 0.9167 0.652
0.5417 0.9167 0.687
0.5833 0.9167 0.719
0.625 0.9167 0.750
0.6667 0.9167 0.779
0.7083 0.9167 0.807
0.75 0.9167 0.833
0.7917 0.9167 0.858
0.8333 0.9167 0.882
0.875 0.9167 0.905
0.9167 0.9167 0.927
0.9583 0.9167 0.948
1 0.9167 0.968

0 0.9583 0
0.0417 0.9583 0.080
0.0833 0.9583 0.153
0.125 0.9583 0.221
0.1667 0.9583 0.283
0.2083 0.9583 0.341
0.25 0.9583 0.395
0.2917 0.9583 0.445
0.3333 0.9583 0.492
0.375 0.9583 0.536
0.4167 0.9583 0.577
0.4583 0.9583 0.616
0.5 0.9583 0.652
0.5417 0.9583 0.687
0.5833 0.9583 0.719
0.625 0.9583 0.750
0.6667 0.9583 0.779
0.7083 0.9583 0.807
0.75 0.9583 0.833
0.7917 0.9583 0.858
0.8333 0.9583 0.882
0.875 0.9583 0.905
0.9167 0.9583 0.927
0.9583 0.9583 0.948
1 0.9583 0.968

0 0.9583 0
0.0417 0.9583 0.080
0.0833 0.9583 0.154
0.125 0.9583 0.222
0.1667 0.9583 0.285
0.2083 0.9583 0.344
0.25 0.9583 0.398
0.2917 0.9583 0.449
0.3333 0.9583 0.497
0.375 0.9583 0.542
0.4167 0.9583 0.585
0.4583 0.9583 0.624
0.5 0.9583 0.662
0.5417 0.9583 0.697
0.5833 0.9583 0.731
0.625 0.9583 0.763
0.6667 0.9583 0.793
0.7083 0.9583 0.822
0.75 0.9583 0.849
0.7917 0.9583 0.875
0.8333 0.9583 0.900
0.875 0.9583 0.924
0.9167 0.9583 0.947
0.9583 0.9583 0.969
1 0.9583 0.989

0 1 0
0.0417 1 0.080
0.0833 1 0.154
0.125 1 0.222
0.1667 1 0.285
0.2083 1 0.344
0.25 1 0.398
0.2917 1 0.449
0.3333 1 0.497
0.375 1 0.542
0.4167 1 0.585
0.4583 1 0.624
0.5 1 0.662
0.5417 1 0.697
0.5833 1 0.731
0.625 1 0.763
0.6667 1 0.793
0.7083 1 0.822
0.75 1 0.849
0.7917 1 0.875
0.8333 1 0.900
0.875 1 0.924
0.9167 1 0.947
0.9583 1 0.969
1 1 0.989
};
\draw[line width=3.4pt] (rel axis cs:0,0) -- (rel axis cs:1,0) -- (rel axis cs:1,1);
\end{axis}
\begin{axis}[
  at={(952pt,305.5pt)}, anchor=south west,
  scale only axis, width=49pt, height=312.5pt,
  xmin=0, xmax=1, ymin=0, ymax=1,
  xtick=\empty, ytick={0,0.2,0.4,0.6,0.8,1},
  yticklabel pos=right, ytick pos=both, tick align=inside,
  yticklabel style={anchor=west, inner sep=0pt, xshift=25pt},
  major tick length=11.5pt, tick style={black, line width=2.5pt},
  axis line style={line width=2.5pt},
  axis on top,
  colormap name=gnu, point meta min=0, point meta max=1,
]
\addplot[surf, shader=interp, point meta=explicit] table[meta index=2] {
0 0 0
1 0 0

0 1 1
1 1 1
};
\end{axis}
\node[anchor=east, inner sep=0pt] at (43.5pt,133.5pt) {0.2};
\node[anchor=east, inner sep=0pt] at (43.5pt,133.5pt) {0.4};
\node[anchor=east, inner sep=0pt] at (43.5pt,133.5pt) {0.6};
\node[anchor=east, inner sep=0pt] at (43.5pt,133.5pt) {0.8};
\node[anchor=east, inner sep=0pt] at (43.5pt,133.5pt) {0};
\node[anchor=east, inner sep=0pt] at (43.5pt,133.5pt) {1};
\node[anchor=east, inner sep=0pt] at (115pt,133.5pt) {F-Score};
\node[inner sep=0pt] at (982.5pt,376pt) {Recall};
\end{tikzpicture}
\end{document}
